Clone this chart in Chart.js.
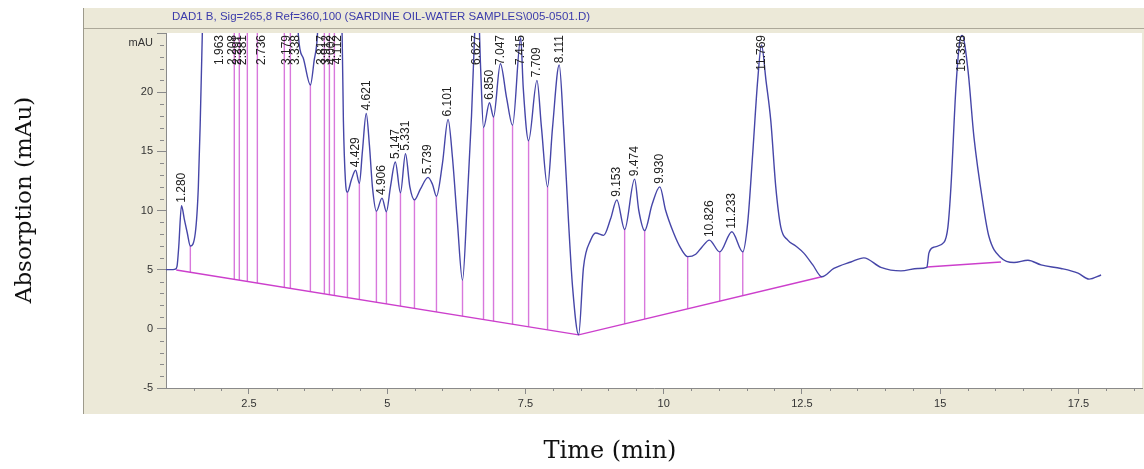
<!DOCTYPE html>
<html>
<head>
<meta charset="utf-8">
<script src="https://cdn.jsdelivr.net/npm/chart.js@4.4.1/dist/chart.umd.min.js"></script>
<style>
  html, body { margin: 0; padding: 0; background: #fff; }
  canvas { display: block; }
</style>
</head>
<body>
<canvas id="chart" width="1144" height="469"></canvas>
<script>
// DAD trace (min / mAU). Values above 25 are off the top of the plot.
const traceTimes = [
  1.00, 1.08, 1.17, 1.20, 1.23, 1.28, 1.33, 1.385, 1.44, 1.53, 1.585, 1.62, 1.655, 1.70, 1.963,
  2.15, 2.208, 2.25, 2.291, 2.33, 2.381, 2.47, 2.55, 2.652, 2.736, 2.90, 3.14, 3.179, 3.25, 3.338,
  3.394, 3.48, 3.611, 3.68, 3.738, 3.78, 3.817, 3.864, 3.912, 3.955, 4.002, 4.045, 4.112, 4.186,
  4.208, 4.244, 4.281, 4.353, 4.429, 4.497, 4.552, 4.621, 4.679, 4.733, 4.805, 4.906, 4.986, 5.059,
  5.147, 5.24, 5.331, 5.41, 5.493, 5.60, 5.739, 5.82, 5.891, 6.00, 6.101, 6.18, 6.27, 6.362, 6.45,
  6.525, 6.59, 6.627, 6.69, 6.742, 6.850, 6.923, 7.047, 7.16, 7.267, 7.415, 7.46, 7.557, 7.709,
  7.79, 7.90, 7.99, 8.111, 8.19, 8.28, 8.353, 8.462, 8.55, 8.68, 8.77, 8.914, 9.04, 9.153, 9.294,
  9.474, 9.55, 9.656, 9.79, 9.930, 10.036, 10.18, 10.31, 10.434, 10.58, 10.69, 10.826, 11.014,
  11.233, 11.43, 11.52, 11.61, 11.70, 11.769, 11.85, 11.937, 12.027, 12.118, 12.244, 12.389,
  12.534, 12.697, 12.86, 13.077, 13.385, 13.62, 13.928, 14.29, 14.597, 14.76, 14.796, 14.887,
  15.068, 15.14, 15.195, 15.285, 15.358, 15.398, 15.502, 15.611, 15.774, 15.882, 16.10, 16.335,
  16.588, 16.824, 17.186, 17.493, 17.692, 17.91
];
const traceValues = [
  5.0, 5.0, 5.05, 5.3, 6.9, 10.4, 9.3, 8.1, 7.0, 8.1, 12.0, 17.6, 24.6, 34, 90,
  48, 52, 46, 50, 45, 48, 42, 44, 40, 44, 38, 34, 37, 33, 35,
  24.8, 22.9, 20.6, 22.7, 24.8, 30, 33, 30, 34, 31, 33, 30, 32, 24.6,
  17.6, 12.6, 11.55, 12.6, 13.4, 12.3, 15.0, 18.2, 15.5, 12.0, 9.95, 11.05, 9.9, 12.0,
  14.1, 11.5, 14.8, 12.0, 10.9, 11.8, 12.8, 12.2, 11.2, 14.0, 17.7, 14.5, 9.0, 4.1, 11.0,
  18.0, 26, 30, 22, 17.0, 19.1, 17.9, 22.4, 19.5, 17.2, 24.6, 20.4, 15.9, 21.0,
  17.0, 12.0, 17.0, 22.3, 17.0, 9.0, 3.5, -0.5, 5.2, 7.5, 8.1, 7.9, 9.3, 10.9, 8.4,
  12.65, 10.0, 8.3, 10.5, 12.0, 10.0, 8.1, 6.8, 6.1, 6.3, 6.9, 7.5, 6.5,
  8.2, 6.5, 9.0, 14.8, 21.0, 24.0, 21.0, 17.6, 12.0, 8.6, 7.5, 7.0,
  6.4, 5.4, 4.4, 5.1, 5.65, 6.0, 5.2, 4.9, 5.1, 5.2, 6.4, 6.9,
  7.3, 8.6, 12.0, 20.4, 24.4, 24.8, 21.9, 16.2, 10.6, 7.8, 6.0, 5.6,
  5.8, 5.4, 5.1, 4.7, 4.2, 4.55
];

// labelled retention times
const peakTimes = [
  1.280, 1.963, 2.208, 2.291, 2.381, 2.736, 3.179, 3.338, 3.817, 3.912, 4.002, 4.112,
  4.429, 4.621, 4.906, 5.147, 5.331, 5.739, 6.101, 6.627, 6.850, 7.047, 7.415, 7.709,
  8.111, 9.153, 9.474, 9.930, 10.826, 11.233, 11.769, 15.398
];

// integration drop lines (valleys)
const dropTimes = [
  1.44, 2.235, 2.326, 2.471, 2.652, 3.14, 3.249, 3.611, 3.864, 3.955, 4.045, 4.281, 4.497,
  4.805, 4.986, 5.24, 5.493, 5.891, 6.362, 6.742, 6.923, 7.267, 7.557, 7.90, 9.294, 9.656,
  10.434, 11.014, 11.43
];

// integration baselines: two joined segments, then a separate one
const baselineTimes = [1.186, 8.462, 12.86, null, 14.76, 16.10];
const baselineValues = [4.97, -0.51, 4.4, null, 5.22, 5.65];

const xTicks = [2.5, 5, 7.5, 10, 12.5, 15, 17.5];
const yTicks = [-5, 0, 5, 10, 15, 20, 25];

const titleText = 'DAD1 B, Sig=265,8 Ref=360,100 (SARDINE OIL-WATER SAMPLES\\005-0501.D)';

function interp(xs, ys, t) {
    for (let i = 0; i < xs.length - 1; i++) {
        if (xs[i] === null || xs[i + 1] === null) continue;
        if (t >= xs[i] && t <= xs[i + 1]) {
            const f = (t - xs[i]) / (xs[i + 1] - xs[i]);
            return ys[i] + f * (ys[i + 1] - ys[i]);
        }
    }
    return null;
}

const traceData = traceTimes.map((t, i) => ({ x: t, y: traceValues[i] }));
const baselineData = baselineTimes.map((t, i) => ({ x: t === null ? 13.8 : t, y: baselineValues[i] }));
const dropData = [];
dropTimes.forEach(t => {
    dropData.push({ x: t, y: interp(baselineTimes, baselineValues, t) });
    dropData.push({ x: t, y: interp(traceTimes, traceValues, t) });
    dropData.push({ x: t, y: null });
});

const panelPlugin = {
    id: 'panel',
    beforeDraw(chart) {
        const { ctx, chartArea: a, width } = chart;
        ctx.save();
        ctx.fillStyle = '#fff';
        ctx.fillRect(0, 0, width, chart.height);
        // grey instrument panel
        ctx.fillStyle = '#ece9d8';
        ctx.fillRect(a.left - 83, a.top - 25, width - a.left + 83, a.bottom - a.top + 51);
        ctx.strokeStyle = '#9d9a8c';
        ctx.lineWidth = 1;
        ctx.beginPath();
        ctx.moveTo(a.left - 82.5, a.top - 25);
        ctx.lineTo(a.left - 82.5, a.bottom + 26);
        ctx.stroke();
        ctx.strokeStyle = '#aca899';
        ctx.beginPath();
        ctx.moveTo(a.left - 82, a.top - 4.5);
        ctx.lineTo(width, a.top - 4.5);
        ctx.stroke();
        ctx.fillStyle = '#fff';
        ctx.fillRect(a.left, a.top, a.right - a.left, a.bottom - a.top);
        ctx.font = '11.5px "Liberation Sans", Arial, sans-serif';
        ctx.fillStyle = '#3b3bab';
        ctx.textBaseline = 'middle';
        ctx.fillText(titleText, a.left + 6, a.top - 16);
        ctx.restore();
    },
    afterDatasetsDraw(chart) {
        const { ctx, chartArea: a, scales: { x, y } } = chart;
        ctx.save();
        ctx.font = '12px "Liberation Sans", Arial, sans-serif';
        ctx.fillStyle = '#222';
        ctx.textAlign = 'left';
        ctx.textBaseline = 'middle';
        peakTimes.forEach(t => {
            const label = t.toFixed(3);
            const px = x.getPixelForValue(t);
            const py = y.getPixelForValue(interp(traceTimes, traceValues, t));
            const w = ctx.measureText(label).width;
            const bottom = Math.max(py - 3, a.top + 2 + w);
            ctx.save();
            ctx.translate(px, bottom);
            ctx.rotate(-Math.PI / 2);
            ctx.fillText(label, 0, 0);
            ctx.restore();
        });
        ctx.restore();
    },
    afterDraw(chart) {
        const { ctx, chartArea: a, scales: { x, y } } = chart;
        ctx.save();
        // minor ticks
        ctx.strokeStyle = '#8a8a8a';
        ctx.lineWidth = 1;
        ctx.beginPath();
        for (let v = -5; v <= 25; v++) {
            if (v % 5 === 0) continue;
            const py = Math.round(y.getPixelForValue(v)) + 0.5;
            ctx.moveTo(a.left - 6, py);
            ctx.lineTo(a.left - 2, py);
        }
        for (let t = 1.5; t <= 18.5; t += 0.5) {
            if (Math.abs(t / 2.5 - Math.round(t / 2.5)) < 1e-6) continue;
            const px = Math.round(x.getPixelForValue(t)) + 0.5;
            ctx.moveTo(px, a.bottom);
            ctx.lineTo(px, a.bottom + 3);
        }
        ctx.stroke();

        // unit label at the top of the y axis
        ctx.font = '11px "Liberation Sans", Arial, sans-serif';
        ctx.fillStyle = '#333';
        ctx.textAlign = 'right';
        ctx.textBaseline = 'middle';
        ctx.fillText('mAU', a.left - 13, y.getPixelForValue(25) + 10);

        // axis titles
        ctx.font = '24px "DejaVu Serif", serif';
        ctx.fillStyle = '#111';
        ctx.textAlign = 'center';
        ctx.textBaseline = 'middle';
        ctx.fillText('Time (min)', 610, 452);
        ctx.font = '23px "DejaVu Serif", serif';
        ctx.translate(25, 200);
        ctx.rotate(-Math.PI / 2);
        ctx.fillText('Absorption (mAu)', 0, 0);
        ctx.restore();
    }
};

const axisFont = { family: '"Liberation Sans", Arial, sans-serif', size: 11 };

new Chart(document.getElementById('chart'), {
    type: 'line',
    data: {
        datasets: [
            {
                label: 'DAD1 B',
                data: traceData,
                borderColor: '#4646a8',
                borderWidth: 1.4,
                pointRadius: 0,
                cubicInterpolationMode: 'monotone',
                order: 0
            },
            {
                label: 'baseline',
                data: baselineData,
                borderColor: '#cc3fcc',
                borderWidth: 1.4,
                pointRadius: 0,
                spanGaps: false,
                order: 1
            },
            {
                label: 'drop lines',
                data: dropData,
                borderColor: '#d878dc',
                borderWidth: 1.4,
                pointRadius: 0,
                spanGaps: false,
                order: 2
            }
        ]
    },
    options: {
        responsive: false,
        animation: false,
        layout: { padding: { left: 83, top: 33, right: 2, bottom: 55 } },
        plugins: {
            legend: { display: false },
            tooltip: { enabled: false },
            title: { display: false }
        },
        scales: {
            x: {
                type: 'linear',
                min: 1.0,
                max: 18.65,
                afterBuildTicks: s => { s.ticks = xTicks.map(v => ({ value: v })); },
                afterFit: s => { s.height = 26; },
                ticks: {
                    callback: v => String(v),
                    font: axisFont,
                    color: '#333',
                    maxRotation: 0,
                    autoSkip: false,
                    padding: 3
                },
                grid: { drawOnChartArea: false, tickLength: 6, color: '#8a8a8a' },
                border: { color: '#8a8a8a' }
            },
            y: {
                type: 'linear',
                min: -5,
                max: 25,
                afterBuildTicks: s => { s.ticks = yTicks.map(v => ({ value: v })); },
                afterFit: s => { s.width = 83; },
                ticks: {
                    callback: v => (v === 25 ? '' : String(v)),
                    font: axisFont,
                    color: '#333',
                    padding: 4
                },
                grid: { drawOnChartArea: false, tickLength: 9, color: '#8a8a8a' },
                border: { color: '#8a8a8a' }
            }
        }
    },
    plugins: [panelPlugin]
});
</script>
</body>
</html>
